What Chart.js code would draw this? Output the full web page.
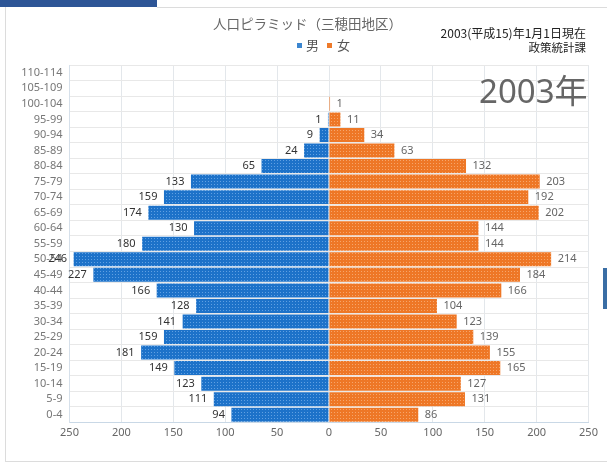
<!DOCTYPE html>
<html>
<head>
<meta charset="utf-8">
<script src="https://cdn.jsdelivr.net/npm/chart.js@4/dist/chart.umd.min.js"></script>
<style>
  html, body { margin: 0; padding: 0; background: #fff; }
  #wrap { position: relative; width: 607px; height: 463px; overflow: hidden; background: #fff; }
  #wrap canvas { position: absolute; left: 0; top: 0; }
  .abs { position: absolute; white-space: nowrap; }
  #topbar { left: 0; top: 0; width: 157px; height: 7px; background: #2d5596; }
  #topline { left: 157px; top: 7px; width: 450px; height: 1px; background: #dcdcdc; }
  #leftline { left: 5px; top: 7px; width: 1px; height: 455px; background: #dcdcdc; }
  #botline { left: 5px; top: 461px; width: 602px; height: 1px; background: #dcdcdc; }
  #tab { left: 603px; top: 268px; width: 4px; height: 41px; background: #3a6ea5; }
  #title { left: 213px; top: 15px; font: 13.5px/16px "Noto Sans CJK JP", "Noto Sans", sans-serif; color: #666; }
  #legend { left: 297px; top: 37px; font: 13px/16px "Noto Sans CJK JP", "Noto Sans", sans-serif; color: #555; }
  #legend .sq { display: inline-block; width: 5px; height: 5px; vertical-align: 2px; }
  #note1 { right: 21px; top: 25px; font: 12px/16px "Noto Sans CJK JP", "Noto Sans", sans-serif; color: #222; }
  #note2 { right: 21px; top: 39px; font: 11.5px/16px "Noto Sans CJK JP", "Noto Sans", sans-serif; color: #222; }
  #year { left: 479px; top: 72px; font: 33px/38px "Noto Sans", "Noto Sans CJK JP", sans-serif; color: #666; }
</style>
</head>
<body>
<div id="wrap">
  <div class="abs" id="topbar"></div>
  <div class="abs" id="topline"></div>
  <div class="abs" id="leftline"></div>
  <div class="abs" id="botline"></div>
  <div class="abs" id="tab"></div>
  <canvas id="c" width="607" height="463"></canvas>
  <div class="abs" id="title">人口ピラミッド（三穂田地区）</div>
  <div class="abs" id="legend"><span class="sq" style="background:#3b86d0"></span><span style="margin-left:4px">男</span><span class="sq" style="background:#ee7a2a;margin-left:8px"></span><span style="margin-left:5px">女</span></div>
  <div class="abs" id="note1">2003(平成15)年1月1日現在</div>
  <div class="abs" id="note2">政策統計課</div>
  <div class="abs" id="year">2003年</div>
</div>
<script>
const ageGroups = ["110-114","105-109","100-104","95-99","90-94","85-89","80-84","75-79","70-74","65-69","60-64","55-59","50-54","45-49","40-44","35-39","30-34","25-29","20-24","15-19","10-14","5-9","0-4"];
const maleValues = [0,0,0,1,9,24,65,133,159,174,130,180,246,227,166,128,141,159,181,149,123,111,94];
const femaleValues = [0,0,1,11,34,63,132,203,192,202,144,144,214,184,166,104,123,139,155,165,127,131,86];
const seriesNames = ["男","女"];
const xTickValues = [-250,-200,-150,-100,-50,0,50,100,150,200,250];

function makePattern(base, dot) {
  const t = document.createElement('canvas');
  t.width = 3; t.height = 3;
  const g = t.getContext('2d');
  g.fillStyle = base; g.fillRect(0, 0, 3, 3);
  g.fillStyle = dot; g.fillRect(1, 1, 1, 1);
  return g.createPattern(t, 'repeat');
}
const ctx = document.getElementById('c').getContext('2d');
const bluePat = makePattern('#1d72c9', '#60a0e2');
const orangePat = makePattern('#ee7726', '#f6a56a');

const valueLabels = {
  id: 'valueLabels',
  afterDatasetsDraw(chart) {
    const c = chart.ctx;
    c.save();
    c.font = '11px "Noto Sans", sans-serif';
    c.textBaseline = 'middle';
    chart.data.datasets.forEach((ds, di) => {
      const meta = chart.getDatasetMeta(di);
      meta.data.forEach((bar, i) => {
        const raw = di === 0 ? maleValues[i] : femaleValues[i];
        if (!raw) return;
        if (di === 0) {
          c.fillStyle = '#333';
          c.textAlign = 'right';
          c.fillText(String(raw), bar.x - 6.5, bar.y);
        } else {
          c.fillStyle = '#666';
          c.textAlign = 'left';
          c.fillText(String(raw), bar.x + 6.5, bar.y);
        }
      });
    });
    c.restore();
  }
};

new Chart(ctx, {
  type: 'bar',
  data: {
    labels: ageGroups,
    datasets: [
      { label: seriesNames[0], data: maleValues.map(v => -v), backgroundColor: bluePat, barPercentage: 0.9, categoryPercentage: 1 },
      { label: seriesNames[1], data: femaleValues, backgroundColor: orangePat, barPercentage: 0.9, categoryPercentage: 1 }
    ]
  },
  options: {
    indexAxis: 'y',
    responsive: false,
    animation: false,
    layout: { padding: { top: 65, right: 18.5, bottom: 0, left: 0 } },
    plugins: { legend: { display: false }, title: { display: false }, tooltip: { enabled: false } },
    scales: {
      x: {
        stacked: true,
        min: -250, max: 250,
        afterBuildTicks(scale) { scale.ticks = xTickValues.map(v => ({ value: v })); },
        afterFit(scale) { scale.height = 40.5; },
        ticks: {
          callback: (v) => Math.abs(v),
          font: { family: '"Noto Sans", sans-serif', size: 11 },
          color: '#666',
          padding: 4,
          maxRotation: 0
        },
        grid: { color: '#e3e7eb', drawTicks: false },
        border: { color: '#c9d8e6' }
      },
      y: {
        stacked: true,
        afterFit(scale) { scale.width = 69.5; },
        ticks: {
          font: { family: '"Noto Sans", sans-serif', size: 11 },
          color: '#777',
          padding: 7,
          autoSkip: false
        },
        grid: { color: '#e8e8e8', drawTicks: false, offset: true },
        border: { color: '#d6e0ea' }
      }
    }
  },
  plugins: [valueLabels]
});
</script>
</body>
</html>
